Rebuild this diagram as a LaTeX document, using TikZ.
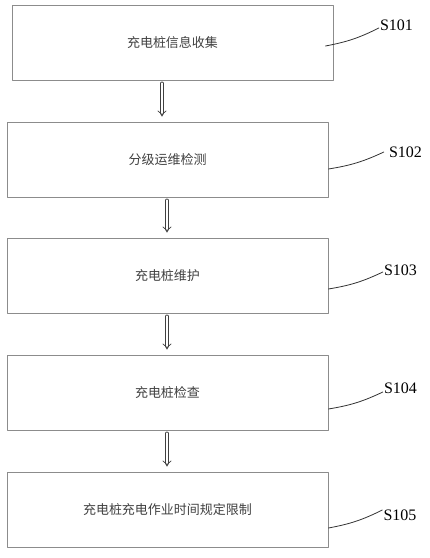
\documentclass[tikz,border=0pt]{standalone}
\usepackage{fontspec}
\setmainfont{Liberation Serif}
\newfontfamily\cjk{Noto Sans CJK SC}
\usetikzlibrary{arrows.meta}
\definecolor{boxgray}{rgb}{0.55,0.55,0.55}
\definecolor{textgray}{rgb}{0.25,0.25,0.25}

\begin{document}
\begin{tikzpicture}[line cap=round,line join=round,x=1pt,y=1pt,
	stepbox/.style={draw=boxgray,line width=0.9pt,minimum width=321pt,minimum height=75pt,inner sep=0pt,font=\cjk\fontsize{13}{15}\selectfont,text=textgray},
	flow/.style={double=white,double distance=2.4pt,line width=0.7pt,draw=black!75,-{Implies}},
	lead/.style={line width=0.8pt,draw=black!80},
	steplabel/.style={inner sep=1pt,font=\fontsize{16}{18}\selectfont}]
	\useasboundingbox (0,0) rectangle (430,558);
	% boxes
	\node[stepbox] (b1) at (172.5,515.5) {充电桩信息收集};
	\node[stepbox] (b2) at (167.5,398.5) {分级运维检测};
	\node[stepbox] (b3) at (167.5,282.5) {充电桩维护};
	\node[stepbox] (b4) at (167.5,165.5) {充电桩检查};
	\node[stepbox] (b5) at (167.5,48.5) {充电桩充电作业时间规定限制};

	% arrows
	\draw[flow] ([xshift=-10.5pt,yshift=-3pt]b1.south) -- ([xshift=-5.5pt,yshift=5pt]b2.north);
	\draw[flow] ([xshift=-0.5pt,yshift=-3pt]b2.south) -- ([xshift=-0.5pt,yshift=5pt]b3.north);
	\draw[flow] ([xshift=-0.5pt,yshift=-3pt]b3.south) -- ([xshift=-0.5pt,yshift=5pt]b4.north);
	\draw[flow] ([xshift=-0.5pt,yshift=-3pt]b4.south) -- ([xshift=-0.5pt,yshift=5pt]b5.north);

	% step numbers
	\node[steplabel] (s1) at (396.5,533) {S101};
	\node[steplabel] (s2) at (405.5,406) {S102};
	\node[steplabel] (s3) at (400.5,288) {S103};
	\node[steplabel] (s4) at (400.5,170) {S104};
	\node[steplabel] (s5) at (400,43) {S105};

	\draw[lead] ([xshift=-8pt,yshift=-3.5pt]b1.east) to[bend right=8] ([yshift=-3pt]s1.west);
	\draw[lead] ([yshift=-9.5pt]b2.east) to[bend right=8] ([xshift=-4pt]s2.west);
	\draw[lead] ([yshift=-13.5pt]b3.east) to[bend right=8] ([yshift=-2pt]s3.west);
	\draw[lead] ([yshift=-16.5pt]b4.east) to[bend right=8] ([yshift=-4pt]s4.west);
	\draw[lead] ([yshift=-18.5pt]b5.east) to[bend right=8] ([yshift=5pt]s5.west);
\end{tikzpicture}
\end{document}
